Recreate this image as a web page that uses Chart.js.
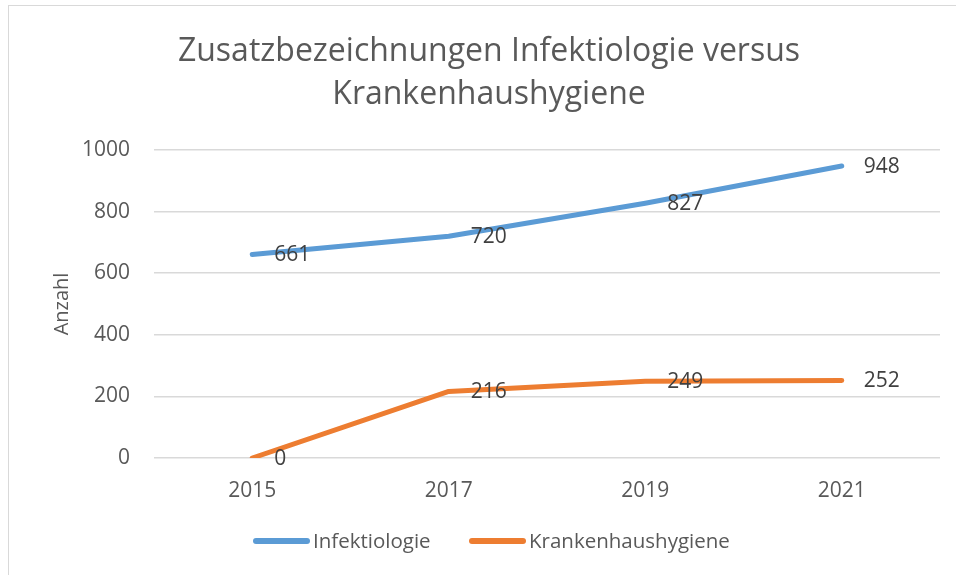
<!DOCTYPE html>
<html>
<head>
<meta charset="utf-8">
<script src="https://cdn.jsdelivr.net/npm/chart.js@4/dist/chart.umd.min.js"></script>
<style>
    html, body { margin: 0; padding: 0; background: #fff; overflow: hidden; }
    #frame { position: absolute; left: 8px; top: 5px; width: 1000px; height: 600px; border: 1.5px solid #d9d9d9; }
    #wrap { position: absolute; left: 0; top: 0; width: 956px; height: 575px; }
</style>
</head>
<body>
<div id="frame"></div>
<div id="wrap"><canvas id="chart" width="956" height="575"></canvas></div>
<script>
// Daten
const years = ['2015', '2017', '2019', '2021'];
const infektiologie = [661, 720, 827, 948];
const krankenhaushygiene = [0, 216, 249, 252];
const yTicks = [0, 200, 400, 600, 800, 1000];

const chartTitle = ['Zusatzbezeichnungen Infektiologie versus', 'Krankenhaushygiene'];
const textColor = '#595959';
const fontFamily = '"Open Sans", "DejaVu Sans", sans-serif';

// Titel, Datenbeschriftungen und Legende zeichnen
const decorPlugin = {
    id: 'decor',
    afterDatasetsDraw(chart) {
        const ctx = chart.ctx;
        ctx.save();
        ctx.font = '21px ' + fontFamily;
        ctx.fillStyle = '#404040';
        ctx.textAlign = 'left';
        ctx.textBaseline = 'middle';
        chart.data.datasets.forEach((ds, i) => {
            chart.getDatasetMeta(i).data.forEach((pt, j) => {
                ctx.fillText(String(ds.data[j]), pt.x + 22, pt.y + 1);
            });
        });
        ctx.restore();
    },
    afterDraw(chart) {
        const ctx = chart.ctx;
        ctx.save();
        // Titel
        ctx.font = '32px ' + fontFamily;
        ctx.fillStyle = textColor;
        ctx.textAlign = 'center';
        ctx.textBaseline = 'middle';
        ctx.fillText(chartTitle[0], 489, 52);
        ctx.fillText(chartTitle[1], 489, 95);

        // Legende
        const items = [
            { x: 256, ds: chart.data.datasets[0] },
            { x: 472, ds: chart.data.datasets[1] }
        ];
        ctx.font = '20.5px ' + fontFamily;
        ctx.textAlign = 'left';
        items.forEach(it => {
            ctx.strokeStyle = it.ds.borderColor;
            ctx.lineWidth = 6;
            ctx.lineCap = 'round';
            ctx.beginPath();
            ctx.moveTo(it.x, 541);
            ctx.lineTo(it.x + 51, 541);
            ctx.stroke();
            ctx.fillStyle = textColor;
            ctx.fillText(it.ds.label, it.x + 57, 542);
        });
        ctx.restore();
    }
};

new Chart(document.getElementById('chart'), {
    type: 'line',
    data: {
        labels: years,
        datasets: [
            {
                label: 'Infektiologie',
                data: infektiologie,
                borderColor: '#5b9bd5',
                backgroundColor: '#5b9bd5',
                borderWidth: 5,
                borderCapStyle: 'round',
                borderJoinStyle: 'round',
                pointRadius: 0,
                tension: 0
            },
            {
                label: 'Krankenhaushygiene',
                data: krankenhaushygiene,
                borderColor: '#ed7d31',
                backgroundColor: '#ed7d31',
                borderWidth: 5,
                borderCapStyle: 'round',
                borderJoinStyle: 'round',
                pointRadius: 0,
                tension: 0
            }
        ]
    },
    options: {
        responsive: false,
        animation: false,
        layout: { padding: { top: 150, right: 16, bottom: 77, left: 0 } },
        plugins: {
            legend: { display: false },
            title: { display: false },
            tooltip: { enabled: false }
        },
        scales: {
            x: {
                offset: true,
                grid: { display: false, drawTicks: false },
                border: { display: false },
                ticks: {
                    color: textColor,
                    font: { family: fontFamily, size: 21 },
                    padding: 20
                },
                afterFit(scale) { scale.height = 40; }
            },
            y: {
                min: 0,
                max: 1000,
                afterBuildTicks(scale) {
                    scale.ticks = yTicks.map(v => ({ value: v }));
                },
                grid: { color: '#d9d9d9', lineWidth: 1.5, drawTicks: false },
                border: { display: false },
                ticks: {
                    color: textColor,
                    font: { family: fontFamily, size: 21 },
                    padding: 24,
                    callback: v => String(v)
                },
                title: {
                    display: true,
                    text: 'Anzahl',
                    color: textColor,
                    font: { family: fontFamily, size: 20 },
                    padding: { top: 50, bottom: 0 }
                },
                afterFit(scale) { scale.width = 154; }
            }
        }
    },
    plugins: [decorPlugin]
});
</script>
</body>
</html>
